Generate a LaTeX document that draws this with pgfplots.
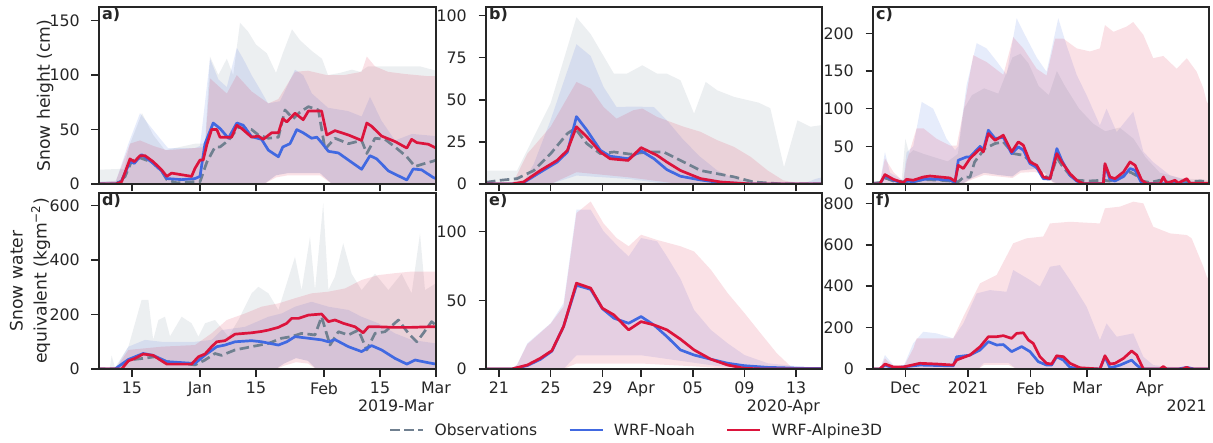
\documentclass[border=0pt]{standalone}
\usepackage{fontspec}
\setmainfont{DejaVu Sans}
\usepackage{pgfplots}
\pgfplotsset{compat=1.18}

\definecolor{obs}{HTML}{708090}
\definecolor{noah}{HTML}{4169E1}
\definecolor{alp}{HTML}{DC143C}
\definecolor{axc}{HTML}{262626}

% one min-max band: upper edge forward, lower edge backward
\newcommand{\band}[2]{%
  \addplot[fill=#1, fill opacity=0.13, draw=none, forget plot] coordinates {#2};
}

\pgfplotsset{
  obsl/.style={obs, line width=2.7pt, dash pattern=on 9.5pt off 4.5pt, line join=round},
  noahl/.style={noah, line width=2.7pt, line join=round},
  alpl/.style={alp, line width=2.7pt, line join=round},
  panel/.style={
    scale only axis, anchor=south west,
    axis on top, no markers,
    axis line style={draw=axc, line width=1.8pt},
    tick style={draw=axc, line width=1.5pt},
    major tick length=7.5pt, tick align=outside, tick pos=left,
    minor tick num=0, scaled ticks=false,
    /pgf/number format/assume math mode=true,
    tick label style={font=\fontsize{15.8}{18}\selectfont, text=axc},
    yticklabel style={anchor=east, inner sep=0pt, xshift=-11.5pt},
    xticklabel style={anchor=north, inner sep=0pt, yshift=-5.5pt},
    ylabel style={font=\fontsize{17.2}{24}\selectfont, text=axc, anchor=center, align=center},
    xlabel style={at={(axis description cs:1,0)}, anchor=north east, inner sep=0pt,
      xshift=-2pt, yshift=-31pt, font=\fontsize{15.8}{18}\selectfont, text=axc},
    title style={at={(axis description cs:0,1)}, anchor=north west, inner sep=0pt,
      xshift=3pt, yshift=-6.3pt, font=\bfseries\fontsize{16}{18}\selectfont, text=axc},
  },
  colA/.style={xmin=-25.25, xmax=59, xtick={-17,0,14,31,45,59}},
  colB/.style={xmin=-12, xmax=14, xtick={-11,-7,-3,0,4,8,12}},
  colC/.style={xmin=-47, xmax=119.3, xtick={-31,0,31,59,90}},
}

\begin{document}
\begin{tikzpicture}
\useasboundingbox (0,0) rectangle (1213pt,442pt);

% ---------------- a) snow height 2019
\begin{axis}[panel, colA, at={(99pt,258pt)}, width=337pt, height=177pt,
  ymin=0, ymax=162.5, ytick={0,50,100,150}, xticklabels={},
  ylabel={Snow height (cm)}, ylabel style={at={(axis description cs:-0.160,0.5)}},
  title={a)}]
\band{obs}{(-26,13) (-19,14) (-17.5,37) (-14.5,65) (-11.7,45) (-8.75,31) (-1.25,37) (1.25,37) (2.5,117) (4.6,100) (6.7,115) (8.3,100) (10,148) (12,140) (14,128) (16.7,120) (19,102) (20.7,120) (23,142) (25,132) (28,122) (30.5,115) (32,100) (35,102) (38,105) (40,103) (42,108) (45,108) (50,108) (55,108) (59,104)
  (59,0) (33,0) (30,10) (22,10) (19,8) (16,0) (-26,0)}
\band{noah}{(-26,2) (-21,3) (-17.9,37) (-15,65) (-12.9,55) (-9.6,40) (-8,33) (-1.25,33) (0,35) (2.5,115) (4.6,96) (6.7,89) (9.2,125) (10.8,115) (12.9,100) (15,87) (17,74) (20,76) (23.75,105) (25.8,100) (28,83) (32,70) (37,67) (40.4,62) (42.5,80) (45.4,58) (48.75,40) (53,46) (59,44)
  (59,0) (33,0) (30,10) (22,10) (19,8) (16,0) (-26,0)}
\band{alp}{(-26,1) (-21,3) (-17.5,37) (-15,40) (-11.7,35) (-8.3,31) (-1.25,33) (1.25,34) (2.5,97) (4.6,90) (6.7,83) (9.2,100) (12.9,85) (17.1,74) (19.6,78) (23.75,103) (27,104) (31.7,100) (36,100) (40.4,103) (41.7,117) (43.75,108) (47,103) (51.25,101) (57,99) (59,99)
  (59,0) (33,0) (30,8) (22,8) (19,6) (16,0) (-26,0)}
\addplot[obsl] coordinates {(-26,0) (-21,0) (-18.75,6.7) (-17.1,21) (-15,24) (-12,20) (-9.6,12) (-8.3,4) (-5.8,1) (-2,2) (0,2) (1.7,20) (3.75,34) (5,34) (7.1,40) (9.6,52) (12.9,50) (14.6,45) (17.1,42) (19.6,43) (21.25,68) (23.3,60) (25,66) (27.1,71) (29.6,68) (31.25,32) (33.75,42) (37.1,37) (40.4,40) (41.7,28) (43.75,42) (46.25,41) (48.75,34) (51.7,25) (53.75,16) (55.4,18) (58.3,21) (59,22)};
\addplot[noahl] coordinates {(-26,0) (-21,0) (-19.6,3) (-17.5,20.5) (-16.4,19) (-14.6,27) (-11.7,19) (-9.6,12) (-8.3,5) (-4.6,4) (-1.25,5) (0,7) (1.25,37) (3.3,56) (5,51) (7.1,42) (9.2,56) (10.8,54) (12.9,43.5) (15.4,41) (17.1,31) (19.6,25) (20.7,34) (22.5,37) (24.2,50) (25.8,47) (27.9,42) (29.2,43) (30.4,38) (32.1,30) (34.6,28.5) (37.1,22) (40.4,13.5) (42.5,26) (44.2,23) (47.1,12) (51.7,3.7) (53.3,13.8) (55.4,13) (58.3,6) (59,5)};
\addplot[alpl] coordinates {(-26,0) (-21,0) (-19.6,2) (-17.5,23) (-16.4,20.5) (-15,26) (-13.75,26) (-11.7,20.5) (-9.6,13) (-8.3,7) (-7.1,10) (-4.6,8.5) (-2.1,7) (-1.25,14.4) (0,22) (0.8,22) (1.7,36) (2.9,50) (4.2,50) (5,43) (6.7,43) (7.9,43) (9.2,54) (10.4,51) (12.9,43) (14.6,44) (15.8,41) (17.9,47) (19.6,47) (20.7,60) (21.7,57) (23.75,65) (25.8,59) (27.1,67) (30.4,67) (31.7,45) (33.75,49) (37.1,45) (40.4,40) (41.7,56) (42.9,53) (45.4,44) (48.75,39) (51.7,33) (52.9,41) (54.2,38) (57.1,36.5) (59,33)};
\end{axis}

% ---------------- b) snow height 2020
\begin{axis}[panel, colB, at={(486pt,258pt)}, width=336pt, height=177pt,
  ymin=0, ymax=105.1, ytick={0,25,50,75,100}, xticklabels={}, title={b)}]
\band{obs}{(-12,8) (-9.6,8) (-7,48) (-5,99) (-3.9,89) (-2.1,65.5) (-1.1,65.5) (0.1,70.5) (1.24,65.5) (2,65.5) (3.05,61.6) (4.1,41.8) (5,60.6) (5.9,55.6) (7.2,51.7) (9.1,48.3) (10,45) (11.06,10) (12.1,37.8) (13.1,34) (14,35)
  (14,0) (-12,0)}
\band{noah}{(-12,0) (-9.1,1) (-8.3,12) (-7,38) (-5,83) (-3.9,76) (-2.9,57.6) (-1.9,45.7) (-0.6,46) (1,45.7) (2,37.8) (3.3,26) (4.6,16) (5.9,8) (7.2,3.2) (9.8,0) (12.5,0) (13.5,3) (14,4)
  (14,0) (2,0) (-1,3) (-5,5) (-7,0) (-12,0)}
\band{alp}{(-12,0) (-9.9,1) (-8.8,18) (-7,34) (-5,60.6) (-3.9,56.6) (-2.9,45.7) (-1.9,38.8) (-0.6,43.8) (0.1,44.8) (1.24,39.8) (3.3,34) (4.6,31) (5.9,26) (7.2,22) (8.5,16) (9.8,8) (11,2.2) (12.4,0) (14,0)
  (14,0) (3,0) (-1,4) (-5,7) (-7,0) (-12,0)}
\addplot[obsl] coordinates {(-12,1) (-10.9,2.2) (-9.6,3.2) (-8.3,8) (-7,18) (-5.7,30) (-5.1,33) (-4.2,24) (-3.15,18) (-2.1,19) (-0.8,17.7) (0.5,19) (1.75,19) (3.05,14) (4.6,8) (7.2,4.2) (8.7,1.2) (11,0) (14,0)};
\addplot[noahl] coordinates {(-12,0) (-10,0) (-9.1,0.8) (-7.8,7) (-6.5,13) (-5.7,19) (-5,40) (-4.2,32) (-3.15,20) (-2.4,16.5) (-1,15) (0,19.7) (1,15) (2,8.5) (3.05,4.6) (4.6,2.4) (6.15,0.8) (8.5,0) (14,0)};
\addplot[alpl] coordinates {(-12,0) (-10,0) (-9.1,1.2) (-7.8,8) (-6.5,14) (-5.7,20) (-5,34) (-4.2,28) (-3.15,19) (-2.4,15) (-1,14) (0,21.6) (1.24,17) (2,13) (3.05,8) (4.6,3.2) (6.15,1.2) (8.5,0) (14,0)};
\end{axis}

% ---------------- c) snow height 2020-21
\begin{axis}[panel, colC, at={(873pt,258pt)}, width=336pt, height=177pt,
  ymin=0, ymax=235, ytick={0,50,100,150,200}, xticklabels={}, title={c)}]
\band{obs}{(-47,0) (-33,0) (-31,60) (-29,40) (-27,45) (-22,40) (-10,30) (-5,40) (-2,100) (2,118) (8,127) (15,120) (22,168) (26,173) (30,160) (35,130) (40,118) (44,150) (48,130) (55,100) (62,80) (68,70) (75,75) (82,60) (88,35) (95,15) (105,8) (119.3,5)
  (119.3,0) (45,0) (42,3) (38,15) (33,20) (26,18) (22,10) (15,12) (8,15) (2,8) (-3,0) (-47,0)}
\band{noah}{(-47,0) (-43.6,1) (-41.1,42.6) (-38.6,15) (-32,5) (-30.4,42) (-27.1,50) (-22.9,109) (-17.2,100) (-10.6,60) (-6.4,45) (-4.8,50) (-0.7,131) (4.3,187) (9.2,180) (14.2,163) (19.1,145) (24.1,220) (27.4,202) (34,168) (38.9,149) (44.7,220) (48.8,184) (53.8,145) (58.7,118) (65.3,78) (68.6,100) (73.6,69) (81.8,96) (86.8,43) (91.7,29) (100,11.5) (108.3,5) (116.5,3) (119.3,3)
  (119.3,0) (45,0) (42,3) (38,15) (33,20) (26,18) (22,10) (15,12) (8,15) (2,8) (-3,0) (-47,0)}
\band{alp}{(-47,0) (-43.6,1) (-41.1,34) (-36.9,16) (-32,3) (-30.4,30) (-25.4,74) (-22.1,74) (-15.5,60) (-8.9,51) (-5.6,51) (-2.3,96) (2.6,171) (9.2,162) (17.5,145) (22.4,195) (27.4,180) (34,153) (38.9,144) (43.1,193) (47.2,193) (53.8,180) (60.4,176) (65.3,180) (67.8,211) (72,202) (78.5,209) (81.8,215) (86.8,198) (91.7,167) (96.7,170) (103.3,153) (108.3,167) (113.2,149) (116.5,127) (118.2,109) (119.3,105)
  (119.3,0) (45,0) (42,2) (38,12) (33,16) (26,15) (22,8) (15,10) (8,12) (2,6) (-3,0) (-47,0)}
\addplot[obsl] coordinates {(-47,1) (-43.6,2) (-41.1,8) (-36.9,4) (-32,3) (-27.1,3) (-22.1,6) (-13.9,5) (-8.9,4) (-4.8,3) (-2,9.3) (1,9) (3.3,29.3) (8.3,47) (13.4,53.7) (17.5,55.9) (22.4,40.4) (27.4,38.1) (32.3,27.1) (37.3,11.5) (40.6,7.1) (44,35) (46.4,25) (50.5,11.5) (53.8,5) (60,4) (67,5) (70,4) (75,8) (80.2,16) (83.5,11) (86,4) (90,2) (95,5) (100,2) (105,4) (110,3) (115,4) (119.3,3)};
\addplot[noahl] coordinates {(-47,0) (-43.6,0) (-41.1,11) (-36.9,5) (-32,1) (-30.4,4) (-27.1,3) (-22.1,6) (-18.8,7) (-13.9,6) (-8.9,5) (-6.4,2) (-4.8,31.5) (-0.7,35.9) (1,36) (6,50) (7.6,45) (10.1,71.4) (13.4,60.3) (17.5,62) (21.6,40.4) (24.9,49.3) (27.4,45) (30.7,27.1) (34,22) (37.3,7.1) (40.6,6.5) (44,47) (46.4,31.5) (50.5,11.5) (53.8,4) (57.1,0.5) (67,0.5) (67.8,24.9) (70.3,6) (72.8,4) (77,10) (80.2,20.5) (82.7,18.2) (86,1) (88.5,0.5) (119.3,0.5)};
\addplot[alpl] coordinates {(-47,0) (-43.6,0) (-41.1,12.5) (-36.9,6.2) (-32,1.8) (-30.4,6.2) (-27.1,5) (-22.1,9.3) (-18.8,10.6) (-13.9,9.3) (-8.9,8) (-6.4,3.6) (-4.8,24.9) (-2.3,20.5) (1,33.8) (6,47) (7.6,42.6) (10.1,67) (13.4,58) (17.5,64.8) (21.6,42.6) (24.9,55.9) (27.4,51.5) (30.7,29.3) (34,24.9) (37.3,9.3) (40.6,7.1) (44,40.4) (46.4,29.3) (50.5,13.7) (53.8,5) (57.1,0.5) (67,0.5) (67.8,27.1) (70.3,9.3) (72.8,7.1) (77,16) (80.2,29.3) (82.7,24.9) (86,5) (88.5,0.5) (95.1,0.5) (96.7,9.3) (98.4,1) (102.5,5) (104,1) (108.3,7.1) (109.9,1) (116.5,1) (119.3,1)};
\end{axis}

% ---------------- d) SWE 2019
\begin{axis}[panel, colA, at={(99pt,73pt)}, width=337pt, height=176pt,
  ymin=0, ymax=646.6, ytick={0,200,400,600},
  xticklabels={15,Jan,15,Feb,15,Mar}, xlabel={2019-Mar},
  ylabel={Snow water\\equivalent (kgm\textsuperscript{−2})},
  ylabel style={at={(axis description cs:-0.205,0.5)}},
  title={d)}]
\band{obs}{(-26,0) (-22.6,0) (-22.1,50) (-21.25,5) (-17.9,82) (-14.6,254) (-12.9,254) (-11.7,107) (-10.4,180) (-8.75,192) (-7.5,120) (-4.6,192) (-2.1,168) (-0.4,119) (1.25,168) (3.75,180) (7.1,119) (9.6,180) (12.9,278) (14.6,302) (17.1,278) (19.6,217) (23.75,412) (25.4,290) (27.5,486) (28.75,290) (30.8,609) (32.1,290) (33.75,340) (35.8,462) (37.9,350) (40.4,290) (43.75,350) (47.1,290) (50.4,350) (52.9,278) (55,498) (56.25,290) (59,315)
  (59,0) (29,0) (27,30) (24,40) (21,20) (19,0) (-26,0)}
\band{noah}{(-26,0) (-21,5) (-17.9,82) (-13.75,107) (-9.6,100) (-1.25,100) (2.9,107) (5.4,143) (11.25,155) (17.1,192) (20.4,204) (23.75,229) (27.9,247) (32.1,229) (37.1,217) (40.4,192) (44.6,168) (48.75,131) (52.9,107) (59,94)
  (59,0) (29,0) (27,30) (24,40) (21,20) (19,0) (-26,0)}
\band{alp}{(-26,0) (-21,2) (-17.9,70) (-9.6,82) (-1.25,88) (2.9,131) (6.7,180) (11.25,204) (15.4,229) (19.6,241) (23.75,260) (27.9,278) (32.1,284) (36.25,296) (40.4,327) (44.6,345) (48.75,352) (52.9,358) (59,358)
  (59,0) (29,0) (27,20) (24,25) (21,12) (19,0) (-26,0)}
\addplot[obsl] coordinates {(-26,0) (-19.6,0) (-17.9,33) (-14.2,39) (-11.25,45) (-8.3,27) (-4.6,21) (-1.25,15) (1.25,33) (3.75,57) (5.4,50) (8.75,70) (12.9,82) (17.1,94) (20.4,113) (22.9,119) (25.4,131) (28.75,125) (30.4,192) (32.5,88) (34.6,137) (37.1,125) (39.6,143) (41.7,70) (43.75,131) (46.25,137) (49.6,180) (52.1,131) (54.2,100) (55.8,131) (57.9,174) (59,160)};
\addplot[noahl] coordinates {(-26,0) (-21.25,0) (-17.9,35) (-14.2,57) (-11.7,50) (-8.3,27) (-2.1,21) (-1.25,21) (1.25,51) (4.2,82) (6.25,88) (8.75,100) (12.9,104) (15.4,100) (19.6,88) (21.7,100) (23.75,119) (27.1,113) (30.4,107) (32.1,100) (33.75,108) (37.1,82) (40.4,64) (42.9,86) (45.4,70) (48.75,39) (51.7,18) (53.75,33) (57.1,23) (59,18)};
\addplot[alpl] coordinates {(-26,0) (-19.6,0) (-17.9,30) (-16.25,39) (-14.2,55) (-11.7,50) (-9.6,30) (-8.3,18) (-2.1,18) (-0.4,45) (1.25,55) (2.9,82) (4.2,100) (6.25,104) (8.75,128) (12.9,133) (15.4,138) (17.1,143) (19.6,153) (21.7,168) (22.9,186) (24.6,186) (27.1,198) (30.4,202) (32.1,174) (33.75,180) (35.8,168) (38.75,155) (40.8,133) (42.1,155) (44.6,155) (48.75,153) (52.9,153) (57.1,155) (59,155)};
\end{axis}

% ---------------- e) SWE 2020
\begin{axis}[panel, colB, at={(486pt,73pt)}, width=336pt, height=176pt,
  ymin=0, ymax=128.2, ytick={0,50,100},
  xticklabels={21,25,29,Apr,05,09,13}, xlabel={2020-Apr}, title={e)},
  legend columns=3,
  legend style={at={(axis description cs:0.448,-0.347)}, anchor=center, draw=none, fill=none,
    font=\fontsize{15.5}{18}\selectfont, text=axc,
    /tikz/every odd column/.append style={column sep=8pt},
    /tikz/every even column/.append style={column sep=29pt}},
  legend image code/.code={\draw[#1] (0pt,0pt) -- (33pt,0pt);}]
\addlegendimage{obsl}
\addlegendentry{Observations}
\addlegendimage{noahl}
\addlegendentry{WRF-Noah}
\addlegendimage{alpl}
\addlegendentry{WRF-Alpine3D}
\band{noah}{(-12,0) (-10,0.5) (-9.6,3) (-8.8,18.7) (-7,33.3) (-6,47.9) (-5,116) (-3.9,116) (-2.9,100.3) (-1.8,89.4) (-0.96,82) (0,95.4) (1.24,93) (2,82) (3.05,65.7) (4.1,43) (5.4,28.5) (6.7,18.7) (8,10.2) (9.8,4.2) (12.4,1.7) (14,1)
  (14,0) (9,0) (6,2) (3,6) (0,10) (-5,10) (-6,0) (-12,0)}
\band{alp}{(-12,0) (-10,0.5) (-9.6,3) (-8.8,18) (-7,33) (-6,45.5) (-5,113.6) (-3.9,122) (-2.9,106) (-1.9,95.4) (-0.96,89.4) (0,97.8) (1.24,94) (3.05,89.4) (4.1,85.6) (5.4,72.3) (6.7,55.3) (8,40.7) (9.25,26) (10.5,11.5) (11.6,1.7) (12.4,0) (14,0)
  (14,0) (7,0) (4,2) (0,4) (-5,4) (-6,0) (-12,0)}
\addplot[noahl, forget plot] coordinates {(-12,0) (-10,0) (-8.8,2.5) (-7.8,7) (-6.9,13) (-6,31) (-5,61) (-3.9,58) (-3,44) (-2.1,37) (-0.96,33.3) (0,38.2) (1,32) (2,23.6) (3.05,13.9) (4.1,10.2) (5.4,7.1) (6.7,4.2) (8,2.4) (9.8,1.2) (12.4,0.5) (14,0.3)};
\addplot[alpl, forget plot] coordinates {(-12,0) (-10,0) (-8.8,2.9) (-7.8,7.8) (-6.9,13.4) (-6,30.9) (-5,62.5) (-3.9,58.9) (-3,44.3) (-2.1,39.4) (-0.96,28.5) (0,34.5) (1,32.1) (2,28.5) (3.05,21.7) (4.1,13.9) (5.4,7.1) (6.7,2.9) (8,0.5) (9.5,0) (14,0)};
\end{axis}

% ---------------- f) SWE 2020-21
\begin{axis}[panel, colC, at={(873pt,73pt)}, width=336pt, height=176pt,
  ymin=0, ymax=850, ytick={0,200,400,600,800},
  xticklabels={Dec,2021,Feb,Mar,Apr}, xlabel={2021}, title={f)}]
\band{noah}{(-47,0) (-43.6,0) (-41.1,67.6) (-36.9,19) (-32,10) (-27.1,124) (-22.1,180) (-15.5,172) (-7.3,148) (-2.3,220) (4.3,365) (10.9,381) (19.1,373) (22.4,478) (30.7,430) (35.6,398) (40.6,494) (45.5,502) (50.5,430) (58.7,301) (65.3,140) (68.6,220) (73.6,156) (81.8,172) (86.8,59) (91.7,19) (100,10) (119.3,5)
  (119.3,0) (24,0) (20,30) (8,30) (5,0) (-47,0)}
\band{alp}{(-47,0) (-43.6,0) (-41.1,51.5) (-36.9,10) (-32,8) (-27,100) (-25.4,148) (-7.3,148) (-2.3,252) (6,414) (14.2,454) (22.4,607) (29,631) (37.3,640) (40.6,703) (50.5,711) (65.3,703) (67.8,776) (75.2,784) (81.8,808) (86.8,800) (91.7,687) (100,655) (108.3,647) (110.7,631) (116.5,494) (118.2,446) (119.3,430)
  (119.3,0) (24,0) (20,20) (8,20) (5,0) (-47,0)}
\addplot[noahl] coordinates {(-47,0) (-43.6,0) (-41.1,19) (-36.9,5) (-23.8,19) (-7.3,15) (-5.6,59) (1,67) (6,92) (10.1,132) (14.2,116) (17.5,118) (21.6,84) (26.6,108) (30.7,84) (34.8,35.4) (38.9,19) (41.4,19) (43.9,59) (47.2,43) (50.5,8) (57.1,0) (65.3,0) (67.8,59) (70.3,5) (75.3,19) (81,43) (83.5,19) (86,0) (104,0) (108.3,8) (112,0) (119.3,0)};
\addplot[alpl] coordinates {(-47,0) (-43.6,0) (-41.1,24) (-36.9,9.7) (-32,9.7) (-23.8,27.5) (-15.5,24) (-7.3,19) (-5.6,43.5) (1,67.6) (6,107.7) (10.1,156) (14.2,156) (17.5,161) (21.6,148) (24.1,172) (27.4,175) (29.9,140) (32.3,124) (35.6,59.4) (38.9,27.5) (41.4,24) (43.9,64) (47.2,59.4) (50.5,27.5) (55.4,6) (65.3,0) (67.8,64) (70.3,24) (72.8,27.5) (77,51.5) (81,87) (83.5,67.6) (86.8,0) (95,0) (96.7,12) (98.3,0) (106,0) (108.3,8) (110,0) (119.3,0)};
\end{axis}
\end{tikzpicture}
\end{document}
